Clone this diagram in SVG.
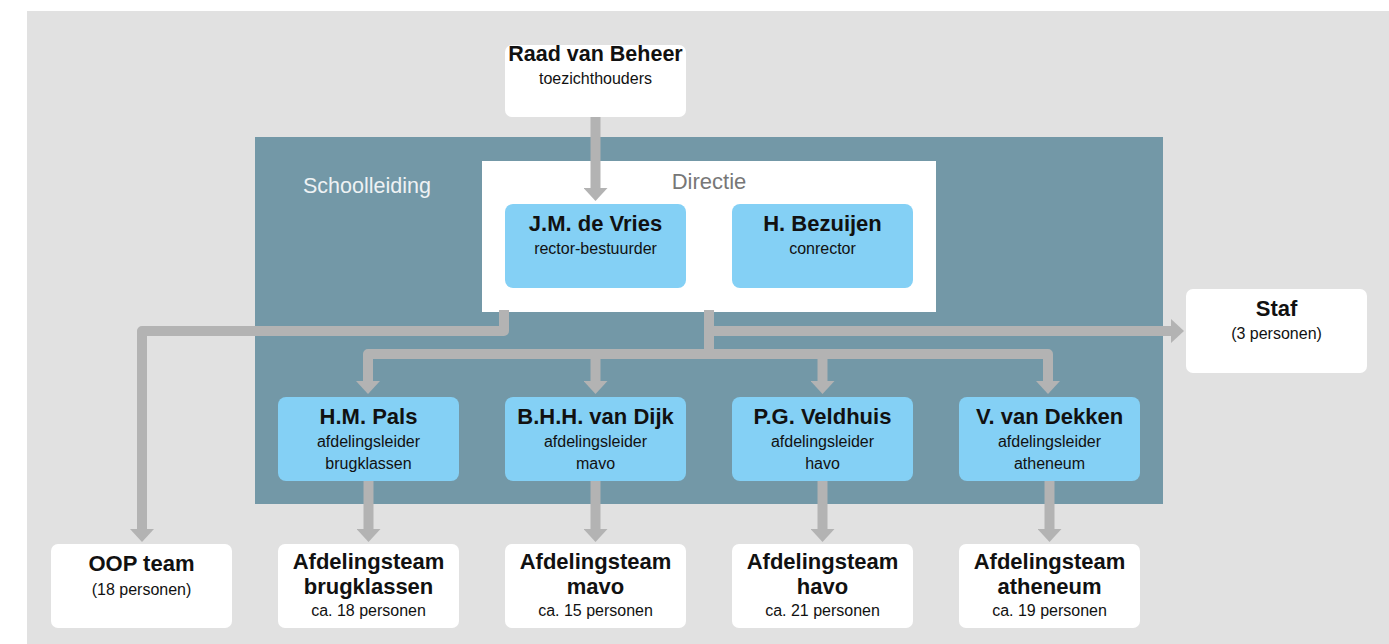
<svg xmlns="http://www.w3.org/2000/svg" width="1389" height="644" viewBox="0 0 1389 644">
<defs>
<style>
.t{font-family:"Liberation Sans",Arial,sans-serif;font-weight:bold;font-size:22px;fill:#111;text-anchor:middle}
.s{font-family:"Liberation Sans",Arial,sans-serif;font-size:16px;fill:#111;text-anchor:middle}
.w{fill:#ffffff}
.b{fill:#84d0f5}
.c{fill:none;stroke:#b3b3b3;stroke-width:10;stroke-linejoin:round}
</style>
<marker id="ah" markerUnits="userSpaceOnUse" markerWidth="14" markerHeight="24" refX="0" refY="12" orient="auto" viewBox="0 0 14 24">
<path d="M0,0 L13,12 L0,24 Z" fill="#b3b3b3"/>
</marker>
</defs>
<rect x="0" y="0" width="1389" height="644" fill="#ffffff"/>
<rect x="27" y="11" width="1362" height="633" fill="#e1e1e1"/>
<g id="schoolleiding">
<rect x="255" y="137" width="908" height="367" fill="#7398a7"/>
<text x="303" y="193" font-family="'Liberation Sans',Arial,sans-serif" font-size="21.5" fill="#eef2f4">Schoolleiding</text>
</g>
<g id="directie">
<rect x="482" y="161" width="454" height="151" fill="#ffffff"/>
<text x="709" y="189" font-family="'Liberation Sans',Arial,sans-serif" font-size="22" fill="#777777" text-anchor="middle">Directie</text>
</g>
<g id="connectors">
<path class="c" d="M595.5,117 V188" marker-end="url(#ah)"/>
<path class="c" d="M504,310 V331 H142 V529" marker-end="url(#ah)"/>
<path class="c" d="M709,310 V354"/>
<path class="c" d="M709,331 H1171" marker-end="url(#ah)"/>
<path class="c" d="M368,381 V354 H1048 V381" marker-end="url(#ah)"/>
<path class="c" d="M368,370 V381" marker-end="url(#ah)"/>
<path class="c" d="M595.5,354 V381" marker-end="url(#ah)"/>
<path class="c" d="M822.5,354 V381" marker-end="url(#ah)"/>
<path class="c" d="M368.5,481 V529" marker-end="url(#ah)"/>
<path class="c" d="M595.5,481 V529" marker-end="url(#ah)"/>
<path class="c" d="M822.5,481 V529" marker-end="url(#ah)"/>
<path class="c" d="M1049.5,481 V529" marker-end="url(#ah)"/>
</g>
<g id="raad">
<rect class="w" x="505" y="45" width="181" height="72" rx="7"/>
<text class="t" x="595.5" y="61" style="font-size:21.5px">Raad van Beheer</text>
<text class="s" x="595.5" y="84">toezichthouders</text>
</g>
<g id="devries">
<rect class="b" x="505" y="204" width="181" height="84" rx="8"/>
<text class="t" x="595.5" y="231">J.M. de Vries</text>
<text class="s" x="595.5" y="254">rector-bestuurder</text>
</g>
<g id="bezuijen">
<rect class="b" x="732" y="204" width="181" height="84" rx="8"/>
<text class="t" x="822.5" y="231">H. Bezuijen</text>
<text class="s" x="822.5" y="254">conrector</text>
</g>
<g id="staf">
<rect class="w" x="1186" y="289" width="181" height="84" rx="7"/>
<text class="t" x="1276.5" y="316">Staf</text>
<text class="s" x="1276.5" y="339">(3 personen)</text>
</g>
<g id="pals">
<rect class="b" x="278" y="397" width="181" height="84" rx="8"/>
<text class="t" x="368.5" y="424">H.M. Pals</text>
<text class="s" x="368.5" y="447">afdelingsleider</text>
<text class="s" x="368.5" y="469">brugklassen</text>
</g>
<g id="vandijk">
<rect class="b" x="505" y="397" width="181" height="84" rx="8"/>
<text class="t" x="595.5" y="424">B.H.H. van Dijk</text>
<text class="s" x="595.5" y="447">afdelingsleider</text>
<text class="s" x="595.5" y="469">mavo</text>
</g>
<g id="veldhuis">
<rect class="b" x="732" y="397" width="181" height="84" rx="8"/>
<text class="t" x="822.5" y="424">P.G. Veldhuis</text>
<text class="s" x="822.5" y="447">afdelingsleider</text>
<text class="s" x="822.5" y="469">havo</text>
</g>
<g id="vandekken">
<rect class="b" x="959" y="397" width="181" height="84" rx="8"/>
<text class="t" x="1049.5" y="424">V. van Dekken</text>
<text class="s" x="1049.5" y="447">afdelingsleider</text>
<text class="s" x="1049.5" y="469">atheneum</text>
</g>
<g id="oop">
<rect class="w" x="51" y="544" width="181" height="84" rx="7"/>
<text class="t" x="141.5" y="571">OOP team</text>
<text class="s" x="141.5" y="595">(18 personen)</text>
</g>
<g id="team-brugklassen">
<rect class="w" x="278" y="544" width="181" height="84" rx="7"/>
<text class="t" x="368.5" y="569">Afdelingsteam</text>
<text class="t" x="368.5" y="594">brugklassen</text>
<text class="s" x="368.5" y="616">ca. 18 personen</text>
</g>
<g id="team-mavo">
<rect class="w" x="505" y="544" width="181" height="84" rx="7"/>
<text class="t" x="595.5" y="569">Afdelingsteam</text>
<text class="t" x="595.5" y="594">mavo</text>
<text class="s" x="595.5" y="616">ca. 15 personen</text>
</g>
<g id="team-havo">
<rect class="w" x="732" y="544" width="181" height="84" rx="7"/>
<text class="t" x="822.5" y="569">Afdelingsteam</text>
<text class="t" x="822.5" y="594">havo</text>
<text class="s" x="822.5" y="616">ca. 21 personen</text>
</g>
<g id="team-atheneum">
<rect class="w" x="959" y="544" width="181" height="84" rx="7"/>
<text class="t" x="1049.5" y="569">Afdelingsteam</text>
<text class="t" x="1049.5" y="594">atheneum</text>
<text class="s" x="1049.5" y="616">ca. 19 personen</text>
</g>
</svg>
